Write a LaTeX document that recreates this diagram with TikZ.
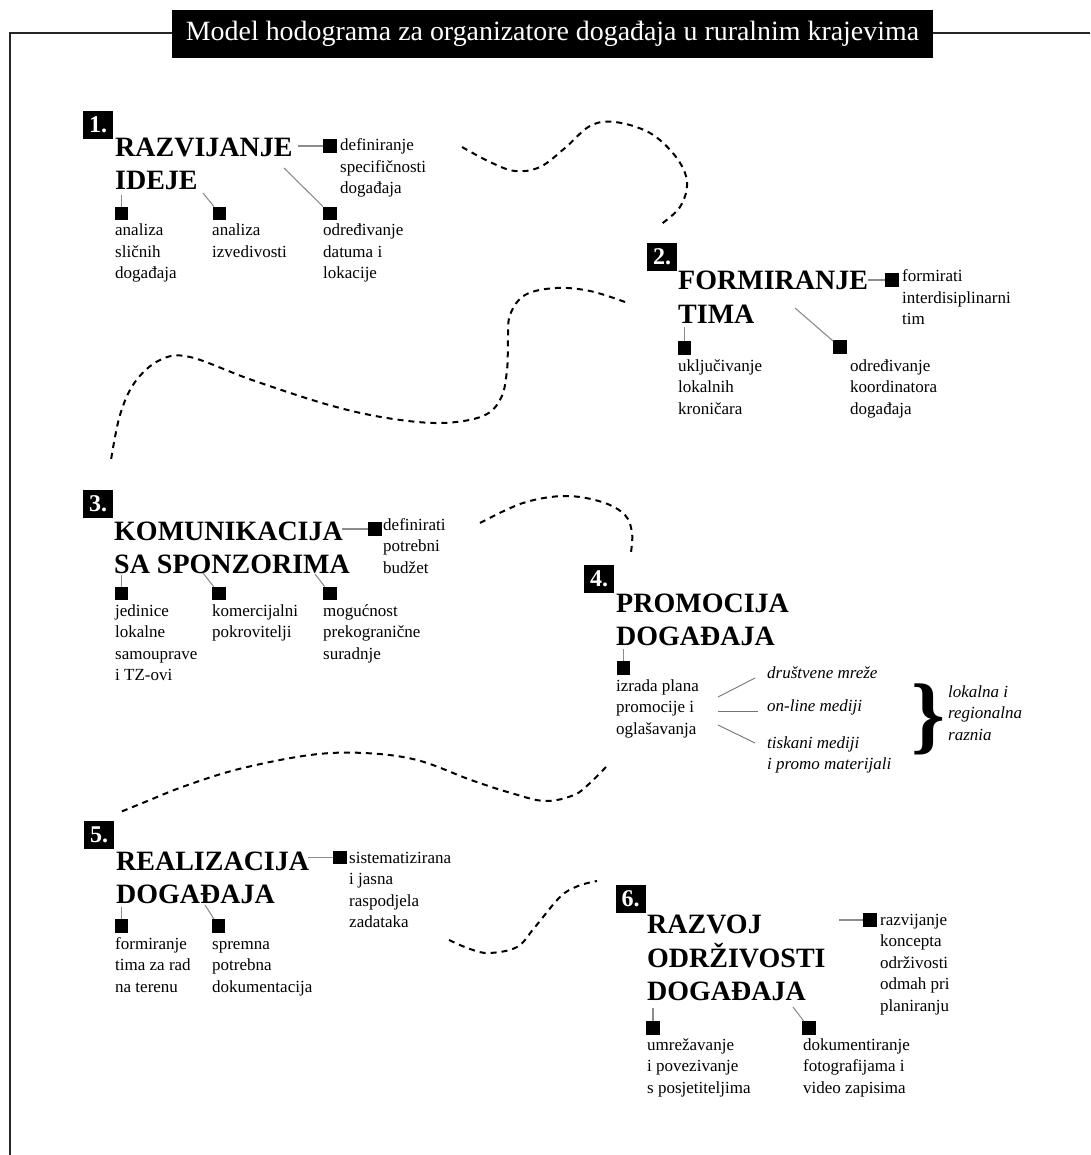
\documentclass[tikz,border=0pt]{standalone}
\usepackage{fontspec}
\setmainfont{Liberation Serif}
\newcommand{\mlines}[1]{\begin{tabular}[t]{@{}l@{}}#1\end{tabular}}
\begin{document}
\begin{tikzpicture}[x=1pt,y=-1pt,
  head/.style={anchor=base west, inner sep=0pt, font=\fontsize{28}{33}\selectfont\bfseries},
  txt/.style={anchor=base west, inner sep=0pt, font=\fontsize{17}{21.5}\selectfont},
  itx/.style={anchor=base west, inner sep=0pt, font=\fontsize{17}{21.5}\selectfont\itshape},
  sq/.style={fill=black, inner sep=0pt, minimum size=13.5pt},
  num/.style={fill=black, text=white, inner sep=0pt, minimum width=30pt, minimum height=28pt, font=\fontsize{24}{24}\selectfont\bfseries},
  conn/.style={draw=black!45, line width=1.1pt},
  thin/.style={draw=black!55, line width=0.9pt},
  wave/.style={line width=2pt, dash pattern=on 6pt off 5pt},
  frame/.style={draw=black!85, line width=2pt}
]
\useasboundingbox (0,0) rectangle (1090,1155);
% frame and title
\draw[frame] (9.5,1155) -- (9.5,33) -- (1090,33);
\node[fill=black, text=white, minimum width=761pt, minimum height=48pt, inner sep=0pt,
      font=\fontsize{27.9}{27.9}\selectfont] (title) at (552.5,34) {Model hodograma za organizatore događaja u ruralnim krajevima};

% ---------- 1 ----------
\node[num] (n1) at (98,125) {1.};
\node[head] (h1) at (115,157) {\mlines{RAZVIJANJE\\IDEJE}};
\node[sq] (s1r) at (330,146) {};
\node[txt] (t1r) at (340,151) {\mlines{definiranje\\specifičnosti\\događaja}};
\node[sq] (s1a) at (121.5,213.5) {};
\node[txt] (t1a) at (115,236) {\mlines{analiza\\sličnih\\događaja}};
\node[sq] (s1b) at (219.5,213.5) {};
\node[txt] (t1b) at (212,236) {\mlines{analiza\\izvedivosti}};
\node[sq] (s1c) at (330,213.5) {};
\node[txt] (t1c) at (323,236) {\mlines{određivanje\\datuma i\\lokacije}};
\coordinate (c1r) at (298,146);
\coordinate (c1a) at (121.5,195);
\coordinate (c1b) at (203,193);
\coordinate (c1c) at (284,168);
\draw[conn] (c1r) -- (s1r);
\draw[conn] (c1a) -- (s1a);
\draw[conn] (c1b) -- (s1b);
\draw[conn] (c1c) -- (s1c);

% ---------- 2 ----------
\node[num] (n2) at (662,257) {2.};
\node[head] (h2) at (678,290) {\mlines{FORMIRANJE\\TIMA}};
\node[sq] (s2r) at (892,280) {};
\node[txt] (t2r) at (902,282) {\mlines{formirati\\interdisiplinarni\\tim}};
\node[sq] (s2a) at (684.5,348) {};
\node[txt] (t2a) at (678,371) {\mlines{uključivanje\\lokalnih\\kroničara}};
\node[sq] (s2b) at (840,347) {};
\node[txt] (t2b) at (850,371) {\mlines{određivanje\\koordinatora\\događaja}};
\coordinate (c2r) at (868,280);
\coordinate (c2a) at (684.5,327);
\coordinate (c2b) at (795,308);
\draw[conn] (c2r) -- (s2r);
\draw[conn] (c2a) -- (s2a);
\draw[conn] (c2b) -- (s2b);

% ---------- 3 ----------
\node[num] (n3) at (98,503.5) {3.};
\node[head] (h3) at (114,540) {\mlines{KOMUNIKACIJA\\SA SPONZORIMA}};
\node[sq] (s3r) at (375,529) {};
\node[txt] (t3r) at (383,530) {\mlines{definirati\\potrebni\\budžet}};
\node[sq] (s3a) at (121.5,593.5) {};
\node[txt] (t3a) at (115,616) {\mlines{jedinice\\lokalne\\samouprave\\i TZ-ovi}};
\node[sq] (s3b) at (219,593.5) {};
\node[txt] (t3b) at (212,616) {\mlines{komercijalni\\pokrovitelji}};
\node[sq] (s3c) at (330,593.5) {};
\node[txt] (t3c) at (323,616) {\mlines{mogućnost\\prekogranične\\suradnje}};
\coordinate (c3r) at (342,529);
\coordinate (c3a) at (121.5,575);
\coordinate (c3b) at (203,573);
\coordinate (c3c) at (315,574);
\draw[conn] (c3r) -- (s3r);
\draw[conn] (c3a) -- (s3a);
\draw[conn] (c3b) -- (s3b);
\draw[conn] (c3c) -- (s3c);

% ---------- 4 ----------
\node[num] (n4) at (599,579) {4.};
\node[head] (h4) at (616,612) {\mlines{PROMOCIJA\\DOGAĐAJA}};
\node[sq] (s4) at (623.5,668) {};
\node[txt] (t4) at (616,691) {\mlines{izrada plana\\promocije i\\oglašavanja}};
\coordinate (c4) at (623.5,649);
\draw[conn] (c4) -- (s4);
\node[itx] (i1) at (767,678) {društvene mreže};
\node[itx] (i2) at (767,711) {on-line mediji};
\node[itx] (i3) at (767,748) {\mlines{tiskani mediji\\i promo materijali}};
\coordinate (d1) at (718,697);
\coordinate (d2) at (718,711);
\coordinate (d3) at (718,725);
\coordinate (e1) at (755,678);
\coordinate (e2) at (758,711);
\coordinate (e3) at (755,743);
\draw[thin] (d1) -- (e1);
\draw[thin] (d2) -- (e2);
\draw[thin] (d3) -- (e3);
\node[inner sep=0pt, font=\fontsize{86}{86}\selectfont\bfseries] (br) at (928,719) {\}};
\node[itx] (t4b) at (948,697) {\mlines{lokalna i\\regionalna\\raznia}};

% ---------- 5 ----------
\node[num] (n5) at (99,835) {5.};
\node[head] (h5) at (116,870) {\mlines{REALIZACIJA\\DOGAĐAJA}};
\node[sq] (s5r) at (340,857.5) {};
\node[txt] (t5r) at (349,863) {\mlines{sistematizirana\\i jasna\\raspodjela\\zadataka}};
\node[sq] (s5a) at (121.5,926) {};
\node[txt] (t5a) at (115,949) {\mlines{formiranje\\tima za rad\\na terenu}};
\node[sq] (s5b) at (218.5,926) {};
\node[txt] (t5b) at (212,949) {\mlines{spremna\\potrebna\\dokumentacija}};
\coordinate (c5r) at (308,857.5);
\coordinate (c5a) at (121.5,907);
\coordinate (c5b) at (205,905);
\draw[conn] (c5r) -- (s5r);
\draw[conn] (c5a) -- (s5a);
\draw[conn] (c5b) -- (s5b);

% ---------- 6 ----------
\node[num] (n6) at (630.5,898.5) {6.};
\node[head] (h6) at (647,933) {\mlines{RAZVOJ\\ODRŽIVOSTI\\DOGAĐAJA}};
\node[sq] (s6r) at (870,920) {};
\node[txt] (t6r) at (880,925) {\mlines{razvijanje\\koncepta\\održivosti\\odmah pri\\planiranju}};
\node[sq] (s6a) at (653,1028) {};
\node[txt] (t6a) at (647,1050) {\mlines{umrežavanje\\i povezivanje\\s posjetiteljima}};
\node[sq] (s6b) at (809,1028) {};
\node[txt] (t6b) at (803,1050) {\mlines{dokumentiranje\\fotografijama i\\video zapisima}};
\coordinate (c6r) at (839,920);
\coordinate (c6a) at (653,1008);
\coordinate (c6b) at (793,1007);
\draw[conn] (c6r) -- (s6r);
\draw[conn] (c6a) -- (s6a);
\draw[conn] (c6b) -- (s6b);

% ---------- dashed waves ----------
\draw[wave] plot[smooth, tension=0.6] coordinates {(462,147) (490,162) (515,171) (540,167) (565,148) (590,126) (615,122) (650,133) (676,157) (687,182) (680,207) (660,225)};
\draw[wave] plot[smooth, tension=0.6] coordinates {(625,302) (590,291) (556,288) (525,295) (510,315) (508,340) (507,370) (501,398) (483,416) (441,423) (387,418) (329,405) (252,380) (190,357) (160,360) (135,382) (120,415) (111,460)};
\draw[wave] plot[smooth, tension=0.6] coordinates {(480,523) (523,503) (565,496) (602,502) (625,515) (632,533) (631,552)};
\draw[wave] plot[smooth, tension=0.6] coordinates {(606,767) (590,783) (574,795) (545,801) (511,793) (471,780) (417,760) (364,753) (310,755) (239,769) (185,786) (145,802) (118,813)};
\draw[wave] plot[smooth, tension=0.6] coordinates {(449,940) (470,949) (489,953) (517,947) (535,927) (560,897) (578,886) (597,881)};
\end{tikzpicture}
\end{document}
